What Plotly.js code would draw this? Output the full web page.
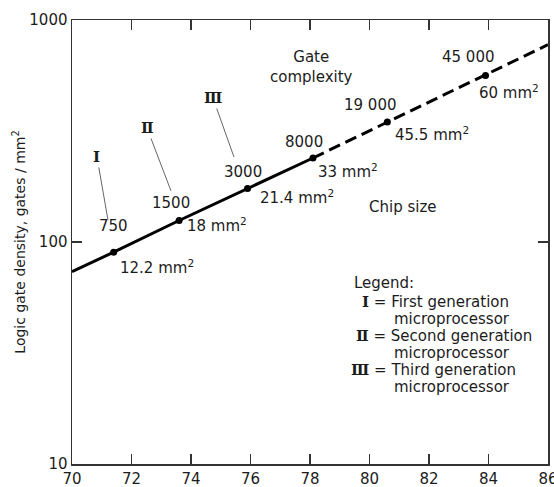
<!DOCTYPE html>
<html>
<head>
<meta charset="utf-8">
<script src="https://cdn.plot.ly/plotly-3.0.1.min.js"></script>
<style>
  html, body { margin: 0; padding: 0; background: #fff; }
  #chart { width: 554px; height: 487px; }
</style>
</head>
<body>
<div id="chart"></div>
<script>
// Microprocessor logic gate density by year of introduction
const years      = [71.4, 73.6, 75.9, 78.1, 80.6, 83.9];
const density    = [90, 125, 174, 239, 347, 563];          // gates / mm²
const complexity = ['750', '1500', '3000', '8000', '19 000', '45 000'];
const chipSize   = ['12.2', '18', '21.4', '33', '45.5', '60']; // mm²
const generations = ['Ⅰ', 'Ⅱ', 'Ⅲ'];
const generationNames = ['First generation', 'Second generation', 'Third generation'];

// Trend extrapolated to the ends of the time axis
const trendStart = {year: 70, density: 73.5};
const trendEnd   = {year: 86, density: 774};
const lastActual = 3; // index of the last fielded part (8000 gates)

const xTicks = [70, 72, 74, 76, 78, 80, 82, 84, 86];
const yTicks = [10, 100, 1000];

const INK = '#1c1c1c';
const SANS = 'DejaVu Sans, sans-serif';
const SERIF = 'DejaVu Serif, serif';

const solidX = [trendStart.year].concat(years.slice(0, lastActual + 1));
const solidY = [trendStart.density].concat(density.slice(0, lastActual + 1));
const dashX = years.slice(lastActual).concat([trendEnd.year]);
const dashY = density.slice(lastActual).concat([trendEnd.density]);

const traces = [
  {x: solidX, y: solidY, mode: 'lines', line: {color: '#000', width: 3}, hoverinfo: 'skip'},
  {x: dashX, y: dashY, mode: 'lines', line: {color: '#000', width: 3, dash: '12px,6px'}, hoverinfo: 'skip'},
  {x: years, y: density, mode: 'markers', marker: {color: '#000', size: 7}}
];

const annotations = [];
const txt = (size) => ({family: SANS, size: size, color: INK});

// gate-count label above each point, chip size below-right
const above = [[0, 26], [-8, 17], [-5, 17], [-9, 16], [-17, 17], [-17, 18]];
const below = [[43, -15], [38, -5], [49, -8], [35, -13], [45, -12], [23, -17]];
years.forEach((yr, i) => {
  const ly = Math.log10(density[i]);
  annotations.push({x: yr, y: ly, xref: 'x', yref: 'y', xanchor: 'center', yanchor: 'middle',
    text: complexity[i], showarrow: false,
    xshift: above[i][0], yshift: above[i][1], font: txt(15)});
  annotations.push({x: yr, y: ly, xref: 'x', yref: 'y', xanchor: 'center', yanchor: 'middle',
    text: chipSize[i] + ' mm<sup>2</sup>', showarrow: false,
    xshift: below[i][0], yshift: below[i][1], font: txt(15)});
});

// generation markers with leader lines
const leaders = [
  {x: 0.0756, y: 0.5495, ax: -11, ay: -63},
  {x: 0.208,  y: 0.615,  ax: -24, ay: -63},
  {x: 0.3403, y: 0.6914, ax: -21, ay: -59}
];
generations.forEach((g, i) => {
  annotations.push({xref: 'paper', yref: 'paper', x: leaders[i].x, y: leaders[i].y,
    ax: leaders[i].ax, ay: leaders[i].ay, text: g, showarrow: true, arrowhead: 0,
    arrowwidth: 1, arrowcolor: '#666', standoff: 0, startstandoff: 0,
    font: {family: SERIF, size: 15, color: INK, weight: 'bold'}});
});

// section headings
const px = (v) => (v - 72) / 476;
const py = (v) => (464 - v) / 444;
annotations.push({xref: 'paper', yref: 'paper', x: px(311), y: py(67), xanchor: 'center', yanchor: 'middle',
  text: 'Gate<br>complexity', showarrow: false, align: 'center', font: txt(15)});
annotations.push({xref: 'paper', yref: 'paper', x: px(403), y: py(207), xanchor: 'center', yanchor: 'middle',
  text: 'Chip size', showarrow: false, font: txt(15)});

// key for the generation numerals
annotations.push({xref: 'paper', yref: 'paper', x: px(352), y: py(283), xanchor: 'left', yanchor: 'middle',
  text: 'Legend:', showarrow: false, font: txt(15)});
const keyLeft = [360, 354, 349];
const keyRows = [302, 336, 370];
generations.forEach((g, i) => {
  annotations.push({xref: 'paper', yref: 'paper', x: px(keyLeft[i]), y: py(keyRows[i]),
    xanchor: 'left', yanchor: 'middle',
    text: '<span style="font-family:DejaVu Serif;font-weight:bold">' + g + '</span> = ' + generationNames[i],
    showarrow: false, font: txt(15)});
  annotations.push({xref: 'paper', yref: 'paper', x: px(392), y: py(keyRows[i] + 17),
    xanchor: 'left', yanchor: 'middle',
    text: 'microprocessor', showarrow: false, font: txt(15)});
});

const axisCommon = {
  showline: true, linecolor: '#333', linewidth: 1.5, mirror: 'ticks',
  ticks: 'inside', ticklen: 10, tickwidth: 1.5, tickcolor: '#333',
  showgrid: false, zeroline: false, tickfont: {family: SANS, size: 15, color: INK},
  ticklabeloverflow: 'allow'
};

const layout = {
  width: 554, height: 487,
  margin: {l: 72, r: 6, t: 20, b: 23},
  paper_bgcolor: '#fff', plot_bgcolor: '#fff',
  showlegend: false,
  xaxis: Object.assign({}, axisCommon, {range: [70, 86], tickvals: xTicks}),
  yaxis: Object.assign({}, axisCommon, {type: 'log', range: [1, 3], tickvals: yTicks,
    ticktext: yTicks.map(String),
    title: {text: 'Logic gate density, gates / mm<sup>2</sup>', font: {family: SANS, size: 14, color: INK}, standoff: 0}}),
  annotations: annotations
};

Plotly.newPlot('chart', traces, layout, {displayModeBar: false, staticPlot: true});
</script>
</body>
</html>
